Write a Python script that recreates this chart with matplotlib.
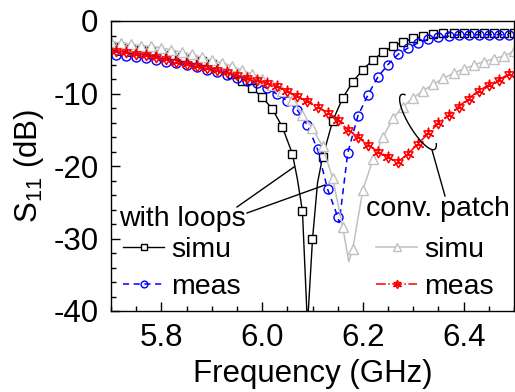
import numpy as np
import matplotlib
matplotlib.use("Agg")
import matplotlib.pyplot as plt
from matplotlib.path import Path
from matplotlib.ticker import MultipleLocator, FormatStrFormatter

plt.rcParams['font.family'] = ['Liberation Sans', 'DejaVu Sans']
plt.rcParams['mathtext.fontset'] = 'custom'
plt.rcParams['mathtext.rm'] = 'Liberation Sans'
plt.rcParams['axes.unicode_minus'] = False

# --- data (S11 in dB vs frequency in GHz) ---
# with loops, simulated (markers on even hundredths)
f_even = np.round(np.linspace(5.70, 6.50, 41), 2)
loops_simu = [-3.4, -3.6, -3.9, -4.0, -4.2, -4.5, -4.7, -4.9, -5.2, -5.5,
              -5.9, -6.5, -7.3, -8.3, -9.3, -10.5, -12.1, -14.6, -18.3, -26.2,
              -30.1, -18.8, -13.8, -10.6, -8.4, -6.7, -5.4, -4.3, -3.5, -2.9,
              -2.4, -2.1, -1.8, -1.7, -1.6, -1.6, -1.6, -1.6, -1.7, -1.7, -1.7]
loops_simu_extra_f = [6.07, 6.09, 6.11]
loops_simu_extra = [-21.8, -42.0, -22.3]

# with loops, measured (markers on odd hundredths)
f_odd = np.round(np.linspace(5.71, 6.49, 40), 2)
loops_meas = [-4.7, -4.8, -5.0, -5.1, -5.4, -5.6, -5.8, -6.0, -6.3, -6.7,
              -7.0, -7.4, -7.8, -8.3, -8.6, -9.3, -10.1, -11.0, -12.3, -14.4,
              -17.7, -23.2, -27.0, -18.2, -13.1, -10.2, -7.7, -6.0, -4.6, -3.7,
              -3.0, -2.5, -2.2, -2.1, -1.9, -1.9, -1.9, -1.9, -1.9, -1.9]
loops_meas_extra_f = [6.153]
loops_meas_extra = [-27.8]

# conventional patch, simulated
conv_simu = [-2.9, -3.0, -3.2, -3.4, -3.5, -3.7, -4.0, -4.3, -4.6, -5.0,
             -5.4, -5.8, -6.2, -6.8, -7.3, -8.0, -8.8, -9.7, -10.9, -12.9,
             -14.8, -17.3, -21.7, -28.4, -31.4, -23.3, -19.1, -16.0, -13.4, -11.8,
             -10.6, -9.6, -8.7, -7.9, -7.2, -6.6, -6.1, -5.6, -5.2, -4.8, -4.2]
conv_simu_extra_f = [6.172]
conv_simu_extra = [-33.2]

# conventional patch, measured
conv_meas = [-4.2, -4.3, -4.5, -4.7, -5.0, -5.3, -5.6, -5.9, -6.2, -6.5,
             -6.8, -7.1, -7.5, -7.8, -8.2, -8.5, -9.0, -9.7, -10.4, -11.0,
             -11.8, -12.7, -13.7, -15.0, -16.0, -17.1, -18.0, -18.7, -19.4, -18.3,
             -16.9, -15.5, -14.1, -13.0, -11.8, -10.7, -9.6, -8.8, -8.1, -7.3]

xticks = [5.8, 6.0, 6.2, 6.4]
yticks = [0, -10, -20, -30, -40]


def merge(f, v, f_extra, v_extra):
    ff = np.concatenate([f, f_extra])
    vv = np.concatenate([v, v_extra])
    order = np.argsort(ff)
    ff, vv = ff[order], vv[order]
    marks = list(np.flatnonzero(np.isin(ff, f)))
    return ff, vv, marks


fig = plt.figure(figsize=(5.15, 3.92), dpi=100)
ax = fig.add_axes([111 / 515, 81 / 392, 403 / 515, 290 / 392])

# triangle-down with asterisk marker for the measured conv. patch
tri = Path.unit_regular_polygon(3).transformed(
    matplotlib.transforms.Affine2D().rotate_deg(180))
star_marker = Path.make_compound_path(tri, Path.unit_regular_asterisk(3))

ff, vv, mk = merge(f_even, loops_simu, loops_simu_extra_f, loops_simu_extra)
l1, = ax.plot(ff, vv, '-', color='black', lw=1.0, marker='s', ms=5.5,
              mfc='white', mec='black', mew=1.0, markevery=mk)
ff, vv, mk = merge(f_odd, loops_meas, loops_meas_extra_f, loops_meas_extra)
l2, = ax.plot(ff, vv, '--', color='#0000ff', lw=1.1, marker='o', ms=6.5,
              mfc='none', mec='#0000ff', mew=1.0, markevery=mk, dashes=(4, 3))
ff, vv, mk = merge(f_even, conv_simu, conv_simu_extra_f, conv_simu_extra)
l3, = ax.plot(ff, vv, '-', color='#c0c0c0', lw=1.1, marker='^', ms=7,
              mfc='white', mec='#c0c0c0', mew=1.0, markevery=mk)
l4, = ax.plot(f_odd, conv_meas, '-.', color='#ff0000', lw=1.1,
              marker=star_marker, ms=7.5, mfc='none', mec='#ff0000', mew=1.1)

ax.set_xlim(5.7, 6.5)
ax.set_ylim(-40, 0)
ax.set_xticks(xticks)
ax.set_yticks(yticks)
ax.xaxis.set_major_formatter(FormatStrFormatter('%.1f'))
ax.xaxis.set_minor_locator(MultipleLocator(0.05))
ax.yaxis.set_minor_locator(MultipleLocator(2))
ax.tick_params(which='both', direction='in', top=False, right=False,
               labelsize=22.5, width=1.0)
ax.tick_params(axis='x', pad=9)
ax.tick_params(axis='y', pad=9)
ax.tick_params(which='major', length=6.5)
ax.tick_params(which='minor', length=3.5)
for s in ax.spines.values():
    s.set_linewidth(1.0)

ax.set_xlabel('Frequency (GHz)', fontsize=22.5, labelpad=4)
ax.set_ylabel(r'S$_{\mathregular{11}}$ (dB)', fontsize=22.5, labelpad=5)

# group titles
ax.text(0.02, 0.292, 'with loops', transform=ax.transAxes, fontsize=20.5,
        ha='left', va='baseline')
ax.text(0.632, 0.329, 'conv. patch', transform=ax.transAxes, fontsize=20.5,
        ha='left', va='baseline')

leg_kw = dict(loc='upper left', frameon=False, fontsize=20.5,
              handlelength=1.45, handletextpad=0.25, labelspacing=0.4,
              borderpad=0, borderaxespad=0, numpoints=1, markerscale=0.75)
leg1 = ax.legend([l1, l2], ['simu', 'meas'], bbox_to_anchor=(0.03, 0.255),
                 **leg_kw)
ax.add_artist(leg1)
ax.legend([l3, l4], ['simu', 'meas'], bbox_to_anchor=(0.658, 0.255), **leg_kw)

# leader lines (given in pixel positions of the picture)
inv = ax.transData.inverted()


def px(x, y):
    return inv.transform((x, 392 - y))


for a, b in [((237, 207), (294, 167)), ((247, 213), (325, 185)),
             ((432, 150), (445, 196))]:
    pa, pb = px(*a), px(*b)
    ax.plot([pa[0], pb[0]], [pa[1], pb[1]], color='black', lw=1.0)

# loop around the two conv. patch curves
t = np.linspace(-0.5, np.pi + 0.35, 60)
ang = np.deg2rad(58.6)
u = np.array([np.cos(ang), np.sin(ang)])
v = np.array([-np.sin(ang), np.cos(ang)])
ex = 418 + 32 * np.cos(t) * u[0] + 9 * np.sin(t) * v[0]
ey = 122 + 32 * np.cos(t) * u[1] + 9 * np.sin(t) * v[1]
pts = np.array([px(a, b) for a, b in zip(ex, ey)])
ax.plot(pts[:, 0], pts[:, 1], color='black', lw=1.0)

fig.savefig('out.png', dpi=100)
